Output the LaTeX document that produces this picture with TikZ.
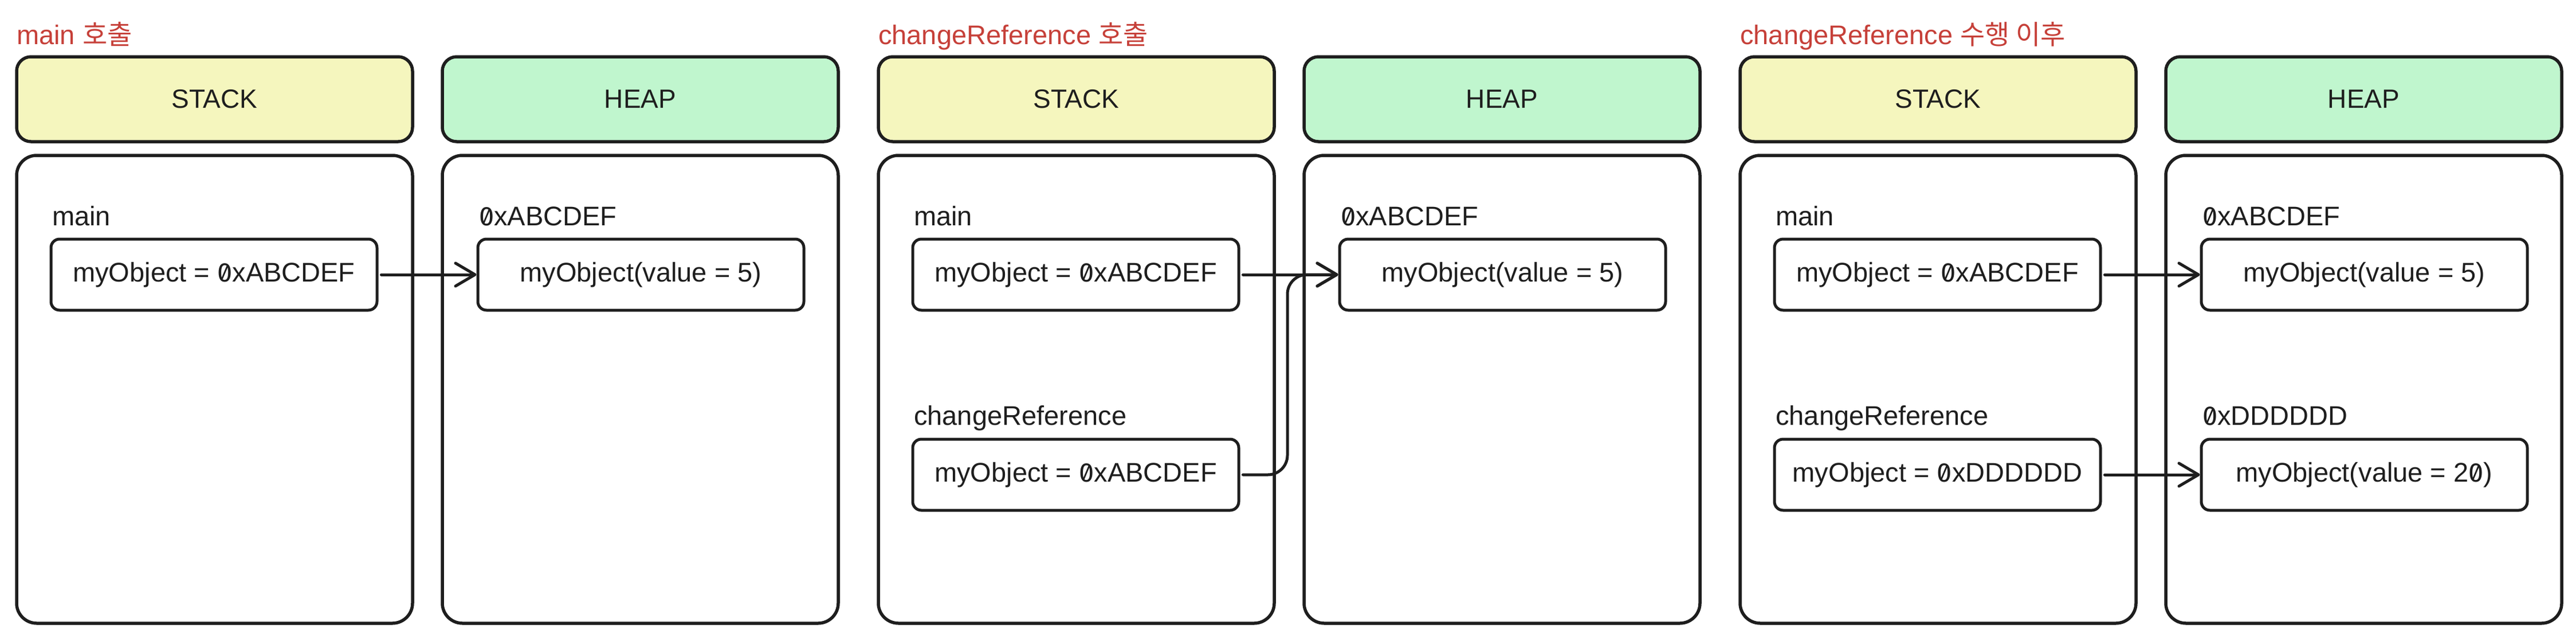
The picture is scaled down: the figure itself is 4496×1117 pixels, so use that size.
\documentclass[tikz,border=0pt]{standalone}
\usepackage{fontspec}
\setmainfont{Liberation Sans}
\newfontfamily\krfont{Noto Sans CJK KR}
\newfontfamily\zfont[RawFeature=+zero]{Fira Sans}
\usetikzlibrary{arrows.meta}
\definecolor{ink}{HTML}{1E1E1E}
\definecolor{titlered}{RGB}{198,64,57}
\definecolor{stackfill}{RGB}{245,246,190}
\definecolor{heapfill}{RGB}{192,246,206}
\newcommand{\zr}{{\zfont 0}}
\newcommand{\bodysize}{\fontsize{47pt}{56pt}\selectfont}
\newcommand{\hdrsize}{\fontsize{46pt}{56pt}\selectfont}
\tikzset{
  hdr/.style={draw=ink, line width=5.5pt, rounded corners=25pt, minimum width=691pt, minimum height=148pt, inner sep=0pt, font=\hdrsize, text=ink},
  bigbox/.style={draw=ink, line width=5.5pt, rounded corners=35pt, minimum width=691pt, minimum height=816pt, inner sep=0pt},
  cell/.style={draw=ink, line width=5pt, rounded corners=15pt, minimum width=569pt, minimum height=124pt, inner sep=0pt, font=\bodysize, text=ink},
  lbl/.style={anchor=base west, inner sep=0pt, font=\bodysize, text=ink},
  ttl/.style={anchor=base west, inner sep=0pt, font=\bodysize, text=titlered},
  ptr/.style={draw=ink, line width=5pt, line cap=round, rounded corners=34pt, shorten <=5pt,
    -{Straight Barb[length=34pt,width=40pt,line cap=round,line join=round]}}
}
\begin{document}
\begin{tikzpicture}[x=1pt,y=-1pt]
\useasboundingbox (0,0) rectangle (4496,1117);

% ---------- panel 1 ----------
\begin{scope}
  \node[ttl] (t1) at (29,77) {main {\krfont 호출}};
  \node[hdr, fill=stackfill] (s1h) at (374.5,173) {STACK};
  \node[hdr, fill=heapfill] (h1h) at (1117.5,173) {HEAP};
  \node[bigbox] (s1b) at (374.5,679) {};
  \node[bigbox] (h1b) at (1117.5,679) {};
  \node[lbl] (s1ml) at (91,393) {main};
  \node[cell] (s1m) at (373.5,479) {myObject = \zr xABCDEF};
  \node[lbl] (h1al) at (836,393) {\zr xABCDEF};
  \node[cell] (h1a) at (1118.5,479) {myObject(value = 5)};
  \draw[ptr] (s1m.east) -- (h1a.west);
\end{scope}

% ---------- panel 2 ----------
\begin{scope}[xshift=1504pt]
  \node[ttl] (t2) at (29,77) {changeReference {\krfont 호출}};
  \node[hdr, fill=stackfill] (s2h) at (374.5,173) {STACK};
  \node[hdr, fill=heapfill] (h2h) at (1117.5,173) {HEAP};
  \node[bigbox] (s2b) at (374.5,679) {};
  \node[bigbox] (h2b) at (1117.5,679) {};
  \node[lbl] (s2ml) at (91,393) {main};
  \node[cell] (s2m) at (373.5,479) {myObject = \zr xABCDEF};
  \node[lbl] (s2cl) at (91,741) {changeReference};
  \node[cell] (s2c) at (373.5,828) {myObject = \zr xABCDEF};
  \node[lbl] (h2al) at (836,393) {\zr xABCDEF};
  \node[cell] (h2a) at (1118.5,479) {myObject(value = 5)};
  \coordinate (bend2) at (743,650);
  \draw[ptr] (s2m.east) -- (h2a.west);
  \draw[ptr] (s2c.east) -- (s2c.east -| bend2) -- (bend2 |- h2a.west) -- (h2a.west);
\end{scope}

% ---------- panel 3 ----------
\begin{scope}[xshift=3008pt]
  \node[ttl] (t3) at (29,77) {changeReference {\krfont 수행 이후}};
  \node[hdr, fill=stackfill] (s3h) at (374.5,173) {STACK};
  \node[hdr, fill=heapfill] (h3h) at (1117.5,173) {HEAP};
  \node[bigbox] (s3b) at (374.5,679) {};
  \node[bigbox] (h3b) at (1117.5,679) {};
  \node[lbl] (s3ml) at (91,393) {main};
  \node[cell] (s3m) at (373.5,479) {myObject = \zr xABCDEF};
  \node[lbl] (s3cl) at (91,741) {changeReference};
  \node[cell] (s3c) at (373.5,828) {myObject = \zr xDDDDDD};
  \node[lbl] (h3al) at (836,393) {\zr xABCDEF};
  \node[cell] (h3a) at (1118.5,479) {myObject(value = 5)};
  \node[lbl] (h3dl) at (836,741) {\zr xDDDDDD};
  \node[cell] (h3d) at (1118.5,828) {myObject(value = 2\zr)};
  \draw[ptr] (s3m.east) -- (h3a.west);
  \draw[ptr] (s3c.east) -- (h3d.west);
\end{scope}
\end{tikzpicture}
\end{document}
